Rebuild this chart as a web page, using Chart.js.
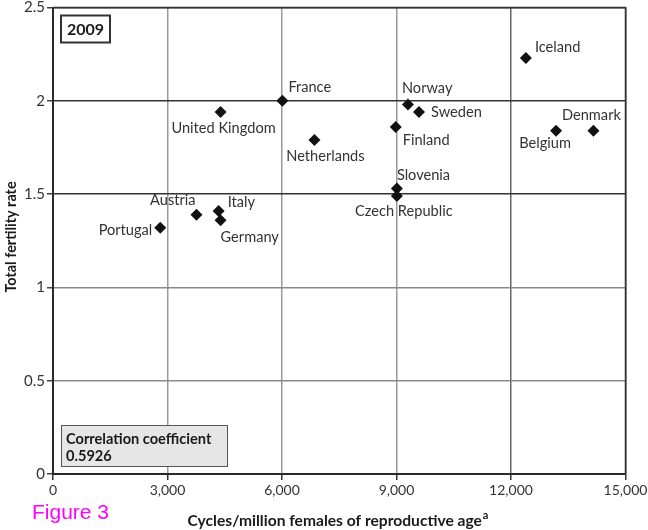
<!DOCTYPE html>
<html>
<head>
<meta charset="utf-8">
<script src="https://cdn.jsdelivr.net/npm/chart.js@4/dist/chart.umd.min.js"></script>
<style>
  html, body { margin: 0; padding: 0; background: #fff; }
  canvas { display: block; }
</style>
</head>
<body>
<canvas id="fig" width="648" height="530"></canvas>
<script>
// Cycles per million females of reproductive age vs total fertility rate, 2009
const countries = ['Iceland', 'France', 'Norway', 'Sweden', 'United Kingdom', 'Finland',
  'Netherlands', 'Belgium', 'Denmark', 'Slovenia', 'Czech Republic', 'Italy', 'Austria',
  'Germany', 'Portugal'];
const cycles = [12390, 6010, 9300, 9590, 4390, 8980, 6850, 13180, 14160, 9010, 9010,
  4340, 3760, 4390, 2810];
const fertility = [2.23, 2.00, 1.98, 1.94, 1.94, 1.86, 1.79, 1.84, 1.84, 1.53, 1.49,
  1.41, 1.39, 1.36, 1.32];
const xTicks = [0, 3000, 6000, 9000, 12000, 15000];
const yTicks = [0, 0.5, 1, 1.5, 2, 2.5];
const yearLabel = '2009';
const correlation = '0.5926';

// where each country name sits relative to its marker
const labelPlacement = {
  'Iceland':        { dx: 9,   dy: -11, align: 'left' },
  'France':         { dx: 6,   dy: -14, align: 'left' },
  'Norway':         { dx: -6,  dy: -16, align: 'left' },
  'Sweden':         { dx: 12,  dy: 0,   align: 'left' },
  'United Kingdom': { dx: 3,   dy: 16,  align: 'center' },
  'Finland':        { dx: 7,   dy: 13,  align: 'left' },
  'Netherlands':    { dx: 11,  dy: 16,  align: 'center' },
  'Belgium':        { dx: -11, dy: 13,  align: 'center' },
  'Denmark':        { dx: -2,  dy: -15, align: 'center' },
  'Slovenia':       { dx: 0,   dy: -13, align: 'left' },
  'Czech Republic': { dx: 7,   dy: 15,  align: 'center' },
  'Italy':          { dx: 9,   dy: -9,  align: 'left' },
  'Austria':        { dx: -1,  dy: -14, align: 'right' },
  'Germany':        { dx: 0,   dy: 17,  align: 'left' },
  'Portugal':       { dx: -8,  dy: 3,   align: 'right' }
};

const FONT = 'Lato, "Open Sans", sans-serif';

const points = cycles.map((c, i) => ({ x: c, y: fertility[i], name: countries[i] }));

const decorations = {
  id: 'decorations',
  afterDatasetsDraw(chart) {
    const ctx = chart.ctx;
    const xs = chart.scales.x, ys = chart.scales.y;
    const area = chart.chartArea;

    // country names
    ctx.save();
    ctx.font = '14.6px ' + FONT;
    ctx.fillStyle = '#333';
    ctx.textBaseline = 'middle';
    points.forEach(p => {
      const pl = labelPlacement[p.name];
      ctx.textAlign = pl.align;
      ctx.fillText(p.name, xs.getPixelForValue(p.x) + pl.dx, ys.getPixelForValue(p.y) + pl.dy);
    });
    ctx.restore();

    // year box
    ctx.save();
    ctx.fillStyle = '#fff';
    ctx.strokeStyle = '#333';
    ctx.lineWidth = 2;
    ctx.fillRect(area.left + 8, area.top + 8, 49, 27);
    ctx.strokeRect(area.left + 8, area.top + 8, 49, 27);
    ctx.fillStyle = '#1a1a1a';
    ctx.font = 'bold 16px ' + FONT;
    ctx.textAlign = 'center';
    ctx.textBaseline = 'middle';
    ctx.fillText(yearLabel, area.left + 32.5, area.top + 22);
    ctx.restore();

    // correlation box
    ctx.save();
    ctx.fillStyle = '#e6e6e6';
    ctx.strokeStyle = '#555';
    ctx.lineWidth = 1;
    const bx = area.left + 8.5, by = area.bottom - 48.5, bw = 166, bh = 41;
    ctx.fillRect(bx, by, bw, bh);
    ctx.strokeRect(bx, by, bw, bh);
    ctx.fillStyle = '#1a1a1a';
    ctx.font = 'bold 14.6px ' + FONT;
    ctx.textAlign = 'left';
    ctx.textBaseline = 'middle';
    ctx.fillText('Correlation coefficient', bx + 4.5, by + 14);
    ctx.fillText(correlation, bx + 4.5, by + 30.5);
    ctx.restore();
  },
  afterDraw(chart) {
    const ctx = chart.ctx;
    const area = chart.chartArea;

    // axis titles
    ctx.save();
    ctx.fillStyle = '#1a1a1a';
    ctx.textBaseline = 'middle';
    const main = 'Cycles/million females of reproductive age';
    ctx.font = 'bold 15.6px ' + FONT;
    const w = ctx.measureText(main).width;
    ctx.font = 'bold 11px ' + FONT;
    const ws = ctx.measureText('a').width;
    const startX = 338 - (w + ws + 1) / 2;
    ctx.font = 'bold 15.6px ' + FONT;
    ctx.textAlign = 'left';
    ctx.fillText(main, startX, 521);
    ctx.font = 'bold 11px ' + FONT;
    ctx.fillText('a', startX + w + 1, 515);

    ctx.font = 'bold 14.4px ' + FONT;
    ctx.translate(11, 237);
    ctx.rotate(-Math.PI / 2);
    ctx.textAlign = 'center';
    ctx.fillText('Total fertility rate', 0, 0);
    ctx.restore();

    // figure caption
    ctx.save();
    ctx.fillStyle = '#ff00ff';
    ctx.font = '21px "Liberation Sans", Arial, sans-serif';
    ctx.textAlign = 'left';
    ctx.textBaseline = 'alphabetic';
    ctx.fillText('Figure 3', 32, 519);
    ctx.restore();

    // outer frame lines along top and right
    ctx.save();
    ctx.strokeStyle = '#333';
    ctx.lineWidth = 1.5;
    ctx.beginPath();
    ctx.moveTo(area.left, area.top);
    ctx.lineTo(area.right, area.top);
    ctx.lineTo(area.right, area.bottom);
    ctx.stroke();
    ctx.restore();
  }
};

new Chart(document.getElementById('fig'), {
  type: 'scatter',
  data: {
    datasets: [{
      data: points,
      pointStyle: 'rectRot',
      pointRadius: 6,
      pointHoverRadius: 6,
      backgroundColor: '#111',
      borderColor: '#111',
      borderWidth: 0
    }]
  },
  options: {
    responsive: false,
    animation: false,
    events: [],
    layout: { padding: { top: 7.5, right: 22.5, left: 0, bottom: 0 } },
    plugins: { legend: { display: false }, tooltip: { enabled: false } },
    scales: {
      x: {
        type: 'linear',
        min: 0, max: 15000,
        afterBuildTicks(s) { s.ticks = xTicks.map(v => ({ value: v })); },
        afterFit(s) { s.height = 56; s.paddingLeft = 0; s.paddingRight = 0; },
        grid: {
          color: c => c.tick.value === 12000 ? '#666' : (c.tick.value === 15000 ? '#333' : '#999'),
          lineWidth: 1.5,
          tickLength: 6,
          tickColor: '#333'
        },
        border: { color: '#2a2a2a', width: 2 },
        ticks: {
          color: '#333',
          font: { family: FONT, size: 14 },
          padding: 2,
          maxRotation: 0,
          callback: v => v.toLocaleString('en-US')
        }
      },
      y: {
        type: 'linear',
        min: 0, max: 2.5,
        afterBuildTicks(s) { s.ticks = yTicks.map(v => ({ value: v })); },
        afterFit(s) { s.width = 53; s.paddingTop = 0; s.paddingBottom = 0; },
        grid: {
          color: c => (c.tick.value === 2 || c.tick.value === 1.5 || c.tick.value === 2.5) ? '#333' : '#8a8a8a',
          lineWidth: 1.5,
          tickLength: 6,
          tickColor: '#444'
        },
        border: { color: '#2a2a2a', width: 2 },
        ticks: {
          color: '#333',
          font: { family: FONT, size: 15 },
          padding: 2,
          callback: v => String(v)
        }
      }
    }
  },
  plugins: [decorations]
});
</script>
</body>
</html>
